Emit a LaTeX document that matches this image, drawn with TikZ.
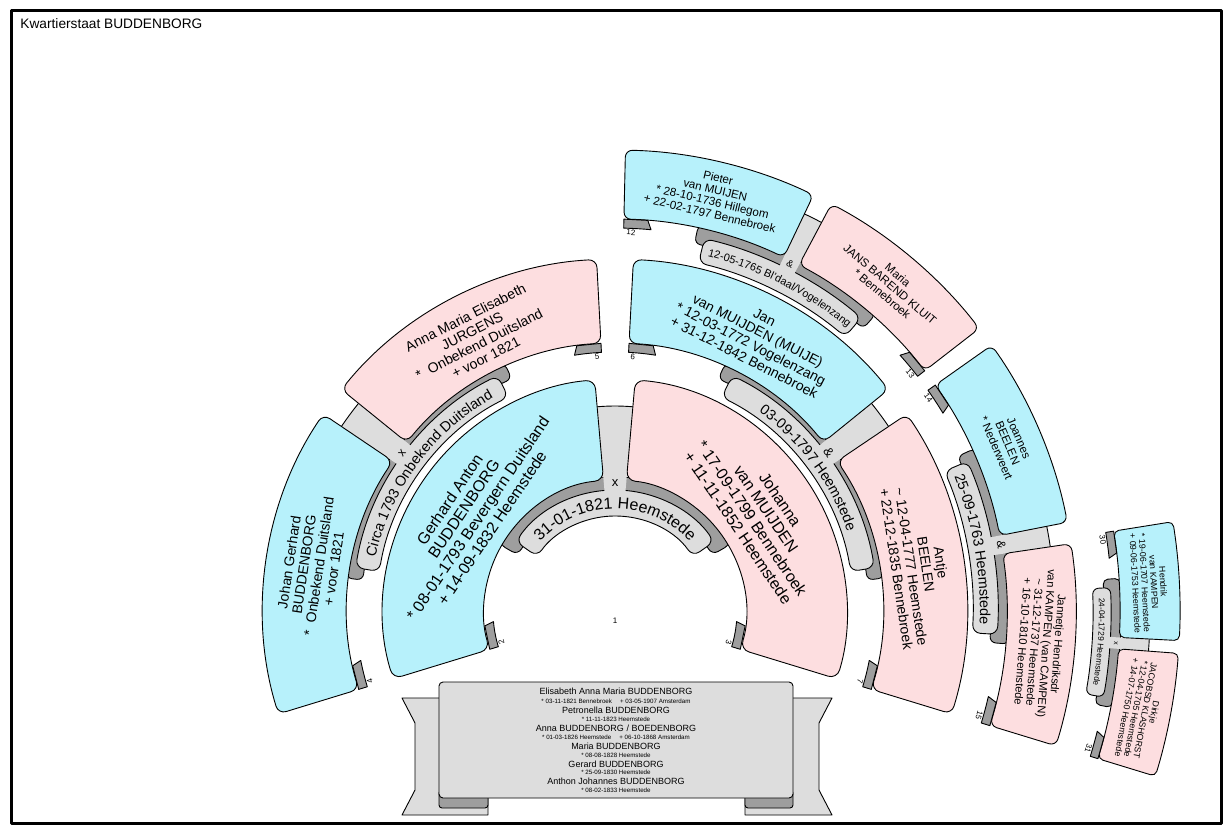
\documentclass[tikz,border=0pt]{standalone}
\usepackage{fontspec}
\setmainfont{Liberation Sans}
\usetikzlibrary{decorations.text}
\definecolor{bfill}{RGB}{183,241,251}
\definecolor{pfill}{RGB}{253,222,224}
\definecolor{lgr}{RGB}{221,221,221}
\definecolor{dgr}{RGB}{158,158,158}
\newcommand\fsz[2]{\fontsize{#1}{#2}\selectfont}
% sector with rounded corners: [corner] fill, a1, a2, rin, rout
\newcommand\pbox[6][6]{\draw[fill=#2, rounded corners=#1] (#3:#5) arc[start angle=#3,end angle=#4,radius=#5] -- (#4:#6) arc[start angle=#4,end angle=#3,radius=#6] -- cycle;}
% connector: a1, a2, r1, r2
\newcommand\conn[4]{\fill[lgr] (#1:#3) arc[start angle=#1,end angle=#2,radius=#3] -- (#2:#4) arc[start angle=#2,end angle=#1,radius=#4] -- cycle;
 \draw (#1:#4) arc[start angle=#1,end angle=#2,radius=#4];}
% tab: end angle, start angle, slant angle, rin, rin-9
\newcommand\ptab[5]{\draw[fill=dgr] (#1:#4) -- (#1:#5) arc[start angle=#1,end angle=#2,radius=#5] -- (#3:#4) -- cycle;}
% curved text: font size, a1, a2, radius, text
\newcommand\ctext[5]{\path[decorate,decoration={text along path,text align=center,text={|\fsz{#1}{#1}|#5}}] (#2:#4) arc[start angle=#2,end angle=#3,radius=#4];}
\tikzset{
 lbl/.style={font=\fsz{8}{8}, inner sep=0pt},
 txt/.style={align=center, inner sep=0pt},
 small/.style={font=\fsz{6.2}{6.2}, inner sep=0pt},
 kid/.style={font=\fsz{9}{9}, inner sep=0pt}
}
\begin{document}
\begin{tikzpicture}[x=1pt,y=1pt,line join=round,line width=0.9pt]
\useasboundingbox (0,0) rectangle (1228,-831);
\fill[white] (0,0) rectangle (1228,-831);
\draw[line width=3pt] (11.5,-10.5) rectangle (1221.5,-823.5);
\node[anchor=base west, font=\fsz{13.7}{14}, inner sep=0pt] (title) at (20,-28.5) {Kwartierstaat BUDDENBORG};

\begin{scope}[shift={(615,-611)}]
% dark strips of marriage ribbons
\pbox[7]{dgr}{30}{150}{112}{134}
\pbox[6]{dgr}{114}{173}{254}{271}
\pbox[6]{dgr}{7}{66}{254}{271}
\pbox[6]{dgr}{48.7}{77.8}{376}{395}
\pbox[6]{dgr}{-4.8}{24.3}{376}{395}
\pbox[5]{dgr}{-11}{3.7}{489}{506}
% light ribbons
\pbox[8]{lgr}{35}{145}{95}{121}
\pbox[8]{lgr}{116.5}{170.5}{239}{263}
\pbox[8]{lgr}{9.5}{63.5}{239}{263}
\pbox[8]{lgr}{50}{76.5}{358}{383}
\pbox[8]{lgr}{-3.5}{23}{358}{383}
\pbox[6]{lgr}{-10}{2.7}{478}{496}
% connectors
\conn{85}{95}{110}{205}
\conn{141}{146}{251}{330}
\conn{34}{39}{251}{330}
\conn{62}{64.5}{372}{440}
\conn{8.4}{11.1}{372}{440}
\conn{-4.3}{-3}{487}{535}
% ring 1
\pbox[9]{bfill}{95}{197}{131}{232}
\pbox[9]{pfill}{-17}{85}{131}{232}
% ring 2
\pbox[8]{bfill}{146}{197}{268}{352}
\pbox[8]{pfill}{93}{141}{268}{352}
\pbox[8]{bfill}{39}{87}{268}{352}
\pbox[8]{pfill}{-17}{34}{268}{352}
% ring 3
\pbox[7]{bfill}{64.5}{88.7}{392}{461}
\pbox[7]{pfill}{37.8}{62}{392}{461}
\pbox[7]{bfill}{11.1}{35.2}{392}{461}
\pbox[7]{pfill}{-17}{8.4}{392}{461}
% ring 4
\pbox[5]{bfill}{-3}{9.1}{505}{565}
\pbox[5]{pfill}{-17}{-4.3}{505}{565}
% tabs
\ptab{197}{185}{186.5}{131}{122}
\ptab{-17}{-5}{-6.5}{131}{122}
\ptab{197}{191}{191.8}{268}{259}
\ptab{93}{99}{98.2}{268}{259}
\ptab{87}{81}{81.8}{268}{259}
\ptab{-17}{-11}{-11.8}{268}{259}
\ptab{88.7}{84.6}{85.2}{392}{383}
\ptab{37.8}{41.9}{41.3}{392}{383}
\ptab{35.2}{31.1}{31.7}{392}{383}
\ptab{-17}{-12.9}{-13.5}{392}{383}
\ptab{9.1}{6.1}{6.6}{505}{497}
\ptab{-17}{-14}{-14.5}{505}{497}
% number labels
\node[lbl] (n1) at (-90:10) {1};
\node[lbl, rotate=105.5] (n2) at (195.5:118) {2};
\node[lbl, rotate=-105.5] (n3) at (-15.5:118) {3};
\node[lbl, rotate=106] (n4) at (196:255) {4};
\node[lbl, rotate=4] (n5) at (94:255) {5};
\node[lbl, rotate=-4] (n6) at (86:255) {6};
\node[lbl, rotate=-106] (n7) at (-16:255) {7};
\node[lbl, rotate=-2.4] (n12) at (87.6:379) {12};
\node[lbl, rotate=-51.2] (n13) at (38.8:379) {13};
\node[lbl, rotate=-55.8] (n14) at (34.2:379) {14};
\node[lbl, rotate=-106] (n15) at (-16:379) {15};
\node[lbl, rotate=-81.7] (n30) at (8.3:493) {30};
\node[lbl, rotate=-106.2] (n31) at (-16.2:493) {31};
% person texts
\node[txt, rotate=56, font=\fsz{16}{17}] (p2) at (146:174) {Gerhard Anton\\BUDDENBORG\\* 08-01-1793 Bevergern Duitsland\\+ 14-09-1832 Heemstede};
\node[txt, rotate=-56, font=\fsz{16}{17}] (p3) at (34:174) {Johanna\\van MUIJDEN\\* 17-09-1799 Bennebroek\\+ 11-11-1852 Heemstede};
\node[txt, rotate=81.5, font=\fsz{14}{15}] (p4) at (171.5:307) {Johan Gerhard\\BUDDENBORG\\*\ \ Onbekend Duitsland\\+ voor 1821};
\node[txt, rotate=27, font=\fsz{14}{15}] (p5) at (117:307) {Anna Maria Elisabeth\\JURGENS\\*\ \ Onbekend Duitsland\\+ voor 1821};
\node[txt, rotate=-27, font=\fsz{14}{15}] (p6) at (63:307) {Jan\\van MUIJDEN (MUIJE)\\* 12-03-1772 Vogelenzang\\+ 31-12-1842 Bennebroek};
\node[txt, rotate=-81.5, font=\fsz{14}{15}] (p7) at (8.5:307) {Antje\\BEELEN\\\textasciitilde{} 12-04-1777 Heemstede\\+ 22-12-1835 Bennebroek};
\node[txt, rotate=-13.4, font=\fsz{11.6}{12.3}] (p12) at (76.6:427) {Pieter\\van MUIJEN\\* 28-10-1736 Hillegom\\+ 22-02-1797 Bennebroek};
\node[txt, rotate=-40.1, font=\fsz{11.6}{12.3}] (p13) at (49.9:427) {Maria\\JANS BAREND KLUIT\\* Bennebroek};
\node[txt, rotate=-66.85, font=\fsz{11.6}{12.3}] (p14) at (23.15:427) {Joannes\\BEELEN\\* Nederweert};
\node[txt, rotate=-94.3, font=\fsz{11.2}{11.8}] (p15) at (-4.3:427) {Jannetje Hendriksdr\\van KAMPEN (van CAMPEN)\\\textasciitilde{} 31-12-1737 Heemstede\\+ 16-10-1810 Heemstede};
\node[txt, rotate=-86.95, font=\fsz{8.8}{9.3}] (p30) at (3.05:535) {Hendrik\\van KAMPEN\\* 19-06-1707 Heemstede\\+ 09-06-1753 Heemstede};
\node[txt, rotate=-100.65, font=\fsz{8.8}{9.3}] (p31) at (-10.65:535) {Dirkje\\JACOBSD KLASHORST\\* 12-04-1705 Heemstede\\+ 14-07-1750 Heemstede};
% marriage texts
\ctext{16}{150}{30}{102}{31-01-1821 Heemstede}
\ctext{14.4}{175}{112}{245.5}{Circa 1793 Onbekend Duitsland}
\ctext{14.4}{68}{5}{245.5}{03-09-1797 Heemstede}
\ctext{10.9}{80}{46}{366.5}{12-05-1765 Bl'daal/Vogelenzang}
\ctext{14.4}{26}{-6.5}{365}{25-09-1763 Heemstede}
\ctext{8.3}{6}{-13.3}{484}{24-04-1729 Heemstede}
\node[inner sep=0pt, font=\fsz{13}{13}] (x23) at (90:128) {x};
\node[inner sep=0pt, font=\fsz{12}{12}, rotate=53.5] (x45) at (143.5:265) {x};
\node[inner sep=0pt, font=\fsz{13}{13}, rotate=-53.5] (x67) at (36.5:266) {\&};
\node[inner sep=0pt, font=\fsz{10}{10}, rotate=-26.75] (x1213) at (63.25:389) {\&};
\node[inner sep=0pt, font=\fsz{12}{12}, rotate=-80.25] (x1415) at (9.75:392) {\&};
\node[inner sep=0pt, font=\fsz{7}{7}, rotate=-93.65] (x3031) at (-3.65:502) {x};
\end{scope}

% children banner
\draw[fill=lgr] (402,-698) -- (415,-723) -- (415,-790) -- (402,-815) -- (488,-815) -- (488,-698) -- cycle;
\draw[fill=lgr] (832,-698) -- (819,-723) -- (819,-790) -- (832,-815) -- (745,-815) -- (745,-698) -- cycle;
\draw[fill=dgr, rounded corners=3] (439,-790) rectangle (488,-808);
\draw[fill=dgr, rounded corners=3] (745,-790) rectangle (793,-808);
\draw[fill=lgr, rounded corners=4] (439,-682) rectangle (793,-798);
\node[kid] (k1) at (616,-691.5) {Elisabeth Anna Maria BUDDENBORG};
\node[small] (k1d) at (616,-701.5) {* 03-11-1821 Bennebroek\hspace{8pt}+ 03-05-1907 Amsterdam};
\node[kid] (k2) at (616,-710) {Petronella BUDDENBORG};
\node[small] (k2d) at (616,-719) {* 11-11-1823 Heemstede};
\node[kid] (k3) at (616,-728) {Anna BUDDENBORG / BOEDENBORG};
\node[small] (k3d) at (616,-737.5) {* 01-03-1826 Heemstede\hspace{8pt}+ 06-10-1868 Amsterdam};
\node[kid] (k4) at (616,-746) {Maria BUDDENBORG};
\node[small] (k4d) at (616,-755) {* 08-08-1828 Heemstede};
\node[kid] (k5) at (616,-764) {Gerard BUDDENBORG};
\node[small] (k5d) at (616,-772.5) {* 25-09-1830 Heemstede};
\node[kid] (k6) at (616,-781) {Anthon Johannes BUDDENBORG};
\node[small] (k6d) at (616,-790) {* 08-02-1833 Heemstede};
\end{tikzpicture}
\end{document}
